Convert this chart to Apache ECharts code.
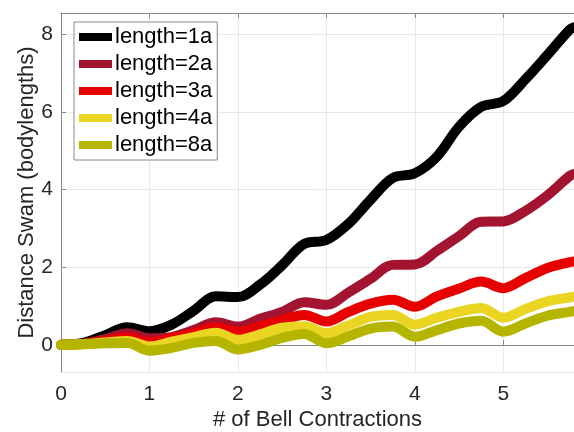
<!DOCTYPE html>
<html>
<head>
<meta charset="utf-8">
<script src="https://cdn.jsdelivr.net/npm/echarts@6/dist/echarts.min.js"></script>
<style>
html,body{margin:0;padding:0;background:#fff;}
#chart{width:574px;height:432px;}
</style>
</head>
<body>
<div id="chart"></div>
<script>
// x positions (# of bell contractions)
const xs = [0, 0.25, 0.5, 0.75, 1.0, 1.25, 1.5, 1.75, 2.0, 2.25, 2.5, 2.75, 3.0, 3.25, 3.5, 3.75, 4.0, 4.25, 4.5, 4.75, 5.0, 5.25, 5.5, 5.75, 5.8];
const len1a = [0, 0.05, 0.25, 0.45, 0.35, 0.52, 0.88, 1.25, 1.23, 1.55, 2.05, 2.6, 2.7, 3.12, 3.74, 4.3, 4.42, 4.85, 5.62, 6.13, 6.28, 6.84, 7.47, 8.12, 8.18];
const len2a = [0, 0.03, 0.15, 0.3, 0.17, 0.2, 0.38, 0.58, 0.47, 0.67, 0.85, 1.1, 1.03, 1.35, 1.7, 2.06, 2.07, 2.42, 2.8, 3.17, 3.18, 3.45, 3.85, 4.35, 4.4];
const len3a = [0, 0.02, 0.1, 0.2, 0.07, 0.17, 0.3, 0.46, 0.34, 0.48, 0.64, 0.77, 0.6, 0.85, 1.06, 1.16, 0.98, 1.25, 1.45, 1.63, 1.46, 1.72, 1.98, 2.13, 2.15];
const len4a = [0, 0.01, 0.06, 0.1, -0.04, 0.08, 0.2, 0.31, 0.13, 0.27, 0.44, 0.48, 0.3, 0.5, 0.72, 0.77, 0.52, 0.7, 0.85, 0.95, 0.7, 0.92, 1.12, 1.22, 1.24];
const len8a = [0, 0.02, 0.04, 0.05, -0.15, -0.08, 0.05, 0.1, -0.12, 0.0, 0.18, 0.28, 0.04, 0.22, 0.42, 0.47, 0.21, 0.38, 0.55, 0.62, 0.34, 0.55, 0.75, 0.85, 0.87];
const seriesNames = ['length=1a', 'length=2a', 'length=3a', 'length=4a', 'length=8a'];
const seriesValues = [len1a, len2a, len3a, len4a, len8a];
const colors = ['#000000', '#A2142F', '#E60000', '#EBD523', '#B5B500'];

const FONT = 'Liberation Sans, Arial, Helvetica, sans-serif';
const axisGray = '#868686';
const textColor = '#262626';

const chart = echarts.init(document.getElementById('chart'), null, {renderer: 'canvas'});
const series = seriesNames.map((name, i) => ({
  name: name,
  type: 'line',
  data: xs.map((x, j) => [x, seriesValues[i][j]]),
  smooth: 0.35,
  showSymbol: false,
  clip: false,
  lineStyle: {width: 10, color: colors[i], cap: 'round', join: 'round'},
  itemStyle: {color: colors[i]},
  emphasis: {disabled: true},
  z: 2 + i
}));

chart.setOption({
  animation: false,
  backgroundColor: '#ffffff',
  grid: {left: 61, top: 13, right: 0, bottom: 60, containLabel: false, outerBoundsMode: 'none'},
  legend: {
    orient: 'vertical',
    left: 74,
    top: 22,
    padding: [4, 5, 4, 5],
    itemGap: 5,
    itemWidth: 33,
    itemHeight: 8,
    backgroundColor: '#ffffff',
    borderColor: '#8a8a8a',
    borderWidth: 1,
    borderRadius: 0,
    icon: 'rect',
    textStyle: {fontFamily: FONT, fontSize: 22, color: '#000000', padding: [0, 0, 0, -2]},
    data: seriesNames
  },
  xAxis: [{
    type: 'value',
    min: 0,
    max: 5.8,
    interval: 1,
    position: 'bottom',
    name: '# of Bell Contractions',
    nameLocation: 'middle',
    nameGap: 37,
    nameMoveOverlap: false,
    nameTextStyle: {fontFamily: FONT, fontSize: 22, color: textColor},
    axisLine: {show: true, lineStyle: {color: axisGray, width: 1}},
    axisTick: {show: true, inside: true, length: 5, lineStyle: {color: axisGray}},
    axisLabel: {fontFamily: FONT, fontSize: 21, color: textColor, margin: 12, showMaxLabel: false},
    splitLine: {show: true, lineStyle: {color: '#e8e8e8', width: 1}}
  }, {
    type: 'value',
    min: 0,
    max: 5.8,
    interval: 1,
    position: 'top',
    axisLine: {show: true, lineStyle: {color: axisGray, width: 1}},
    axisTick: {show: true, inside: true, length: 5, lineStyle: {color: axisGray}},
    axisLabel: {show: false},
    splitLine: {show: false}
  }],
  yAxis: {
    type: 'value',
    min: -0.7,
    max: 8.55,
    splitNumber: 5,
    name: 'Distance Swam (bodylengths)',
    nameLocation: 'middle',
    nameGap: 23,
    nameMoveOverlap: false,
    nameTextStyle: {fontFamily: FONT, fontSize: 22, color: textColor},
    axisLine: {show: true, lineStyle: {color: axisGray, width: 1}},
    axisTick: {show: true, inside: true, length: 5, lineStyle: {color: axisGray}},
    axisLabel: {fontFamily: FONT, fontSize: 21, color: textColor, margin: 8, showMinLabel: false, showMaxLabel: false},
    splitLine: {show: true, lineStyle: {color: '#e8e8e8', width: 1}}
  },
  series: series
});
</script>
</body>
</html>
